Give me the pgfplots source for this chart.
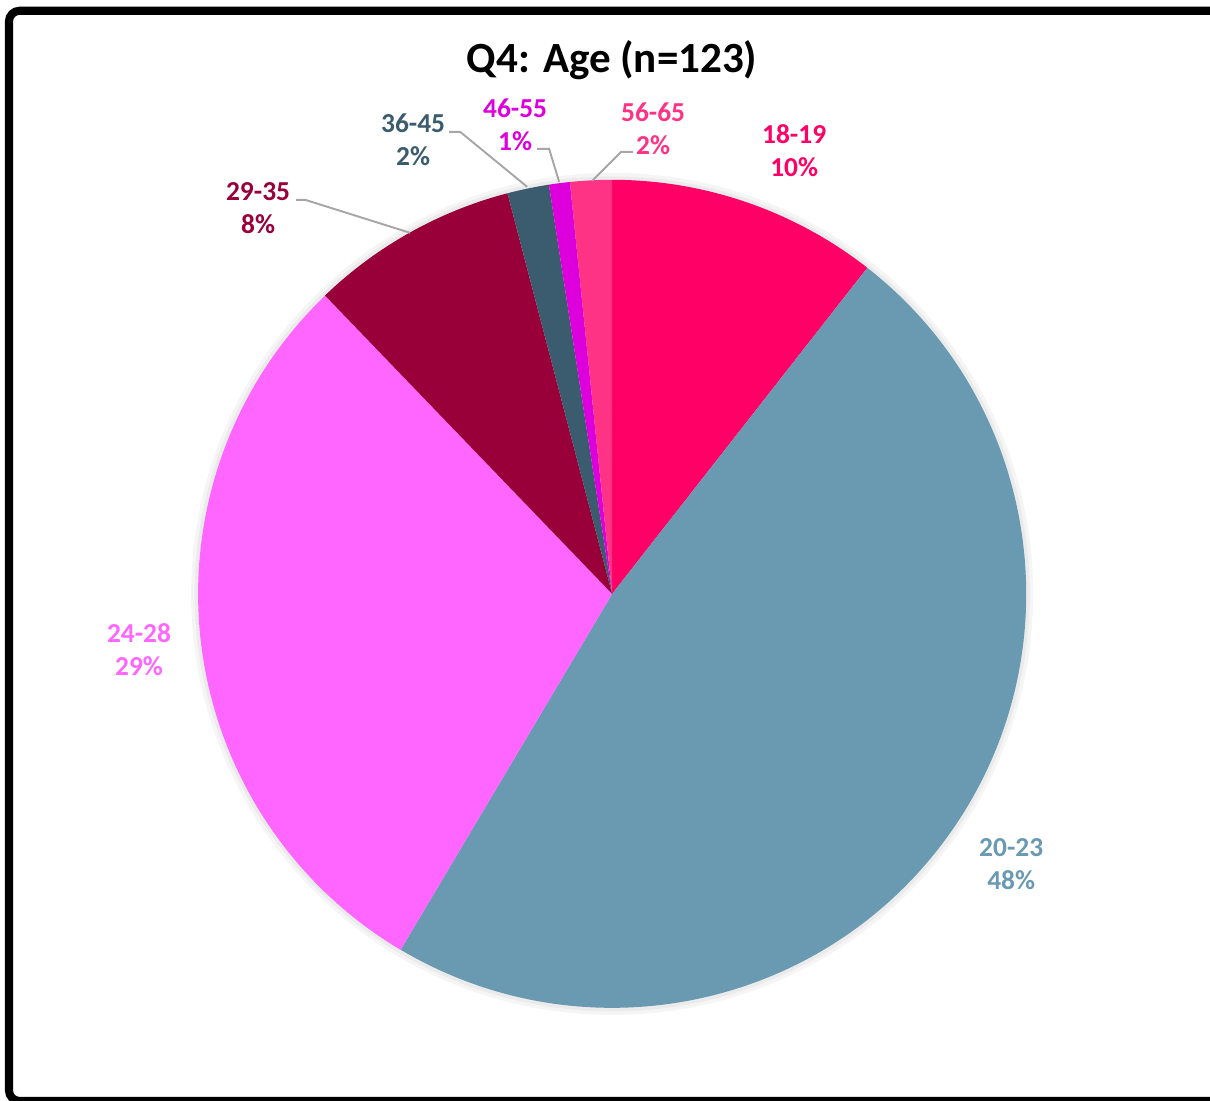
\documentclass[border=0pt]{standalone}
\usepackage{fontspec}
\setmainfont{Carlito}
\usepackage{pgfplots}
\usepackage{pgfplotstable}
\pgfplotsset{compat=1.18}
\definecolor{cA}{HTML}{FF0066}
\definecolor{cB}{HTML}{6A9AB2}
\definecolor{cC}{HTML}{FF66FF}
\definecolor{cD}{HTML}{990039}
\definecolor{cE}{HTML}{3B5B6E}
\definecolor{cF}{HTML}{DD00DD}
\definecolor{cG}{HTML}{FF3385}
\definecolor{lead}{HTML}{A6A6A6}
\pgfplotstableread{
label count pct
18-19 13 10
20-23 59 48
24-28 36 29
29-35 10 8
36-45 2 2
46-55 1 1
56-65 2 2
}\agedata
\begin{document}
\begin{tikzpicture}
\useasboundingbox (0,0) rectangle (24.2cm,22cm);
\clip (0,0) rectangle (24.2cm,22cm);
\def\aA{90}
\pgfplotstablegetelem{0}{count}\of\agedata \pgfmathsetmacro\aB{\aA-(360/123)*\pgfplotsretval}
\pgfplotstablegetelem{1}{count}\of\agedata \pgfmathsetmacro\aC{\aB-(360/123)*\pgfplotsretval}
\pgfplotstablegetelem{2}{count}\of\agedata \pgfmathsetmacro\aD{\aC-(360/123)*\pgfplotsretval}
\pgfplotstablegetelem{3}{count}\of\agedata \pgfmathsetmacro\aE{\aD-(360/123)*\pgfplotsretval}
\pgfplotstablegetelem{4}{count}\of\agedata \pgfmathsetmacro\aF{\aE-(360/123)*\pgfplotsretval}
\pgfplotstablegetelem{5}{count}\of\agedata \pgfmathsetmacro\aG{\aF-(360/123)*\pgfplotsretval}
\pgfplotstablegetelem{6}{count}\of\agedata \pgfmathsetmacro\aH{\aG-(360/123)*\pgfplotsretval}
\newcommand\slice[3]{\fill[#1] (axis cs:612,506) -- (axis cs:{612+414*cos(#2)},{506+414*sin(#2)}) arc[start angle=#2, end angle=#3, radius=8.28cm] -- cycle;}
\begin{axis}[
  at={(0,0)}, anchor=south west,
  x=0.02cm, y=0.02cm,
  xmin=0, xmax=1210, ymin=0, ymax=1100,
  hide axis, clip=false,
]
% frame
\draw[line width=4.6pt, rounded corners=6pt] (axis cs:9,-1) -- (axis cs:9,1089) -- (axis cs:1225,1089) -- (axis cs:1225,-1) -- cycle;
% soft shadow
\fill[black, opacity=0.04] (axis cs:612,506) circle[radius=8.42cm];
\fill[black, opacity=0.04] (axis cs:612,506) circle[radius=8.35cm];
% slices
\slice{cA}{\aA}{\aB}
\slice{cB}{\aB}{\aC}
\slice{cC}{\aC}{\aD}
\slice{cD}{\aD}{\aE}
\slice{cE}{\aE}{\aF}
\slice{cF}{\aF}{\aG}
\slice{cG}{\aG}{\aH}
% leader lines
\draw[lead, line width=1.1pt] (axis cs:296,900) -- (axis cs:305,900) -- (axis cs:410,867);
\draw[lead, line width=1.1pt] (axis cs:449,968) -- (axis cs:460,968) -- (axis cs:527,913);
\draw[lead, line width=1.1pt] (axis cs:537,951) -- (axis cs:549,951) -- (axis cs:559,918);
\draw[lead, line width=1.1pt] (axis cs:633,948) -- (axis cs:621,948) -- (axis cs:592,919);
% labels
\tikzset{lbl/.style={align=center, font=\bfseries\fontsize{15.6}{18.8}\selectfont, inner sep=0pt}}
\node[lbl, text=cA] at (axis cs:794,949) {18-19\\10\%};
\node[lbl, text=cB] at (axis cs:1011,236) {20-23\\48\%};
\node[lbl, text=cC] at (axis cs:139,450.5) {24-28\\29\%};
\node[lbl, text=cD] at (axis cs:258,891.5) {29-35\\8\%};
\node[lbl, text=cE] at (axis cs:413,960) {36-45\\2\%};
\node[lbl, text=cF] at (axis cs:515,975) {46-55\\1\%};
\node[lbl, text=cG] at (axis cs:653,971.5) {56-65\\2\%};
\node[font=\bfseries\fontsize{24.5}{28}\selectfont, inner sep=0pt] at (axis cs:612,1040) {Q4: Age (n=123)};
\end{axis}
\end{tikzpicture}
\end{document}
